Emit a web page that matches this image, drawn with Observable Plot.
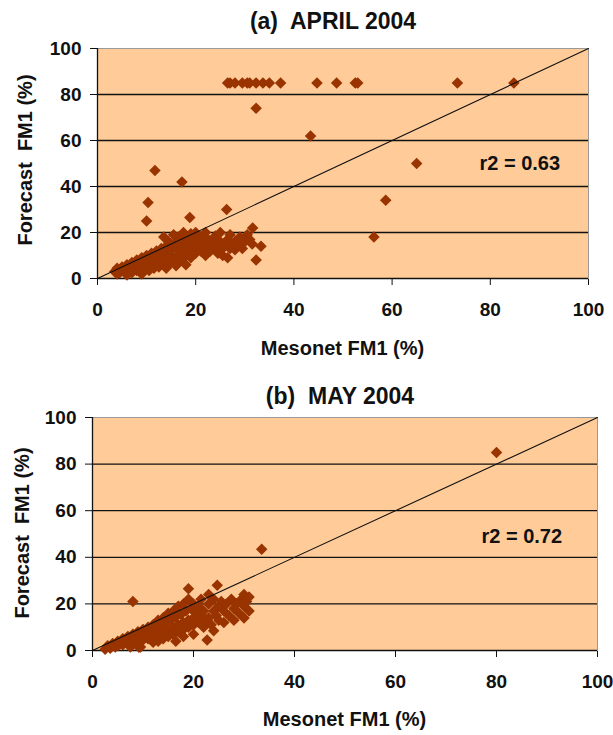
<!DOCTYPE html>
<html>
<head>
<meta charset="utf-8">
<script src="https://cdn.jsdelivr.net/npm/d3@7"></script>
<script src="https://cdn.jsdelivr.net/npm/@observablehq/plot@0.6"></script>
<style>
  html, body { margin: 0; padding: 0; background: #fff; }
  #root { position: relative; width: 613px; height: 735px; overflow: hidden;
    font-family: "Liberation Sans", Arial, sans-serif; font-weight: bold; color: #111; }
  .t { position: absolute; white-space: pre; text-align: center; transform: translate(-50%, -50%); line-height: 1; }
  .yl { position: absolute; white-space: pre; transform: translate(-50%, -50%) rotate(-90deg); line-height: 1; }
  .panel { position: absolute; left: 0; }
</style>
</head>
<body>
<div id="root"></div>
<script>
// ---- data ----
const ticks = [0, 20, 40, 60, 80, 100];
const gridLevels = [20, 40, 60, 80];
const titles = ["(a)  APRIL 2004", "(b)  MAY 2004"];
const xLabel = "Mesonet FM1 (%)";
const yLabel = "Forecast  FM1 (%)";
const r2Labels = ["r2 = 0.63", "r2 = 0.72"];
const oneToOne = [{x: 0, y: 0}, {x: 100, y: 100}];

// April 2004: [Mesonet FM1, Forecast FM1]
const aprilMesonet = [
  26.5,27,28,29.5,30.5,31,32.3,33.7,35,37.3,44.7,48.7,52.5,53,73.3,84.8,
  32.3,43.4,11.7,17.2,10.3,10,18.8,26.3,31.6,33.3,32.3,65,58.7,56.3,
  3.5,4,4.5,5,5,5.5,6,6,6.5,7,7,7.5,8,8,8,8.5,9,9,9,9.5,10,10,10,10.5,11,11,11,11.5,
  12,12,12,12.5,13,13,13,13.5,13.5,14,14,14,14,14.5,15,15,15,15,15.5,16,16,16,16,16.5,
  17,17,17,17,17.5,18,18,18,18,18.5,19,19,19,19,19.5,20,20,20,20.5,21,21,21.5,22,22,22,
  22.5,23,23,24,24,24.5,25,25,25.5,25.5,26,26.5,26.5,27,27,27.5,28,28,28.5,29,29,29.5,
  30,30.5,31,31.5,4,6,7,9
];
const aprilForecast = [
  85,85,85,85,85,85,85,85,85,85,85,85,85,85,85,85,
  74,62,47,42,33,25,26.5,30,22,14,8,50,34,18,
  3,4.5,2.5,5,3.5,4,6,3,5,7,4,5.5,8,3.5,6,5,9,4,7,6,10,5,8,3.5,11,6,8.5,4.5,
  12,7,9.5,5,13,8,10.5,6,18,14,9,11.5,4.5,16,15,7,10,12.5,19,16,5.5,9,13,18,
  17,8,11,14.5,20,18,6,10,13,16,19.5,9,12,15,17,20,11,14,16.5,12,18,15,10,14,20,
  17,12,16,14,18.5,11,16,20,10,13,15,9,17,13,19,15,12.5,16,14,15,18,13,
  16,19,17,15,2,1.5,2.5,2
];

// May 2004
const mayMesonet = [
  80,33.5,8,22.7,30,24.7,19,24,9.2,
  2.5,3,3.5,4,4.5,5,5,5.5,6,6,6.5,7,7,7.5,8,8,8.5,9,9,9.5,9.5,10,10,10.5,11,11,11.5,
  12,12,12,12.5,13,13,13,13.5,14,14,14,14.5,15,15,15,15.5,16,16,16,16.5,16.5,17,17,17,
  17.5,18,18,18,18,18.5,19,19,19,19.5,20,20,20,20,20.5,21,21,21.5,21.5,22,22,22.5,23,23,
  23,23.5,24,24,24.5,25,25,25.5,26,26,26.5,27,27.5,28,28,28.5,29,29.5,30,30,30.5,31,31
];
const mayForecast = [
  85,43.5,21,4.5,14,28,26.5,8.5,1.4,
  0.5,2,1,3,1.5,4,2,3,5,2.5,4,6,3,1.5,7,4,5.5,8,3,1.5,6,9,4.5,7,10,5,8,
  11,6,3.5,9,13,7,4,10.5,14,8,5,12,16,9,6,13,17,10,7,14.5,4,19,11,8,
  15.5,20,12,9,6,17,22,13,10,18,20,14,11,7,16,19,12,22,15,17,10,13,24,20,
  14,11,17,22,15,19,13,21,17,12,20,15,22,18,13,20,16,22,19,24,21,17,23
];

// ---- drawing ----
const fill = "#FFCC99";
const markerColor = "#993300";
const diamond = {
  draw(ctx, size) {
    const h = Math.sqrt(size / 2);
    ctx.moveTo(0, -h); ctx.lineTo(h, 0); ctx.lineTo(0, h); ctx.lineTo(-h, 0); ctx.closePath();
  }
};

const panels = [
  {title: titles[0], xs: aprilMesonet, ys: aprilForecast, r2: r2Labels[0], r2x: 86, r2y: 50,
   top: 30, height: 345, mt: 18, mb: 97, ml: 97, mr: 25, titleY: 21, titleX: 333, xlY: 348, ylX: 25, ylY: 160},
  {title: titles[1], xs: mayMesonet, ys: mayForecast, r2: r2Labels[1], r2x: 85, r2y: 49,
   top: 405, height: 330, mt: 12, mb: 85, ml: 92, mr: 16, titleY: 396, titleX: 340, xlY: 719, ylX: 22, ylY: 533}
];

const root = document.getElementById("root");
for (const p of panels) {
  const pts = p.xs.map((x, i) => ({x, y: p.ys[i]}));
  const chart = Plot.plot({
    width: 613,
    height: p.height,
    marginTop: p.mt, marginBottom: p.mb, marginLeft: p.ml, marginRight: p.mr,
    style: {fontFamily: '"Liberation Sans", Arial, sans-serif',
            fontSize: "19px", fontWeight: "bold", color: "#111", background: "transparent"},
    x: {domain: [0, 100], ticks: ticks, tickSize: 7, tickPadding: 17, label: null},
    y: {domain: [0, 100], ticks: ticks, tickSize: 7, tickPadding: 9, label: null},
    marks: [
      Plot.frame({fill: fill, stroke: "#9a9a9a", strokeWidth: 1}),
      Plot.ruleY(gridLevels, {stroke: "#111", strokeWidth: 1.3}),
      Plot.ruleX([0], {stroke: "#111", strokeWidth: 1.3}),
      Plot.ruleY([0], {stroke: "#111", strokeWidth: 1.3}),
      Plot.dot(pts, {x: "x", y: "y", symbol: diamond, r: 4.6, fill: markerColor, stroke: "none"}),
      Plot.line(oneToOne, {x: "x", y: "y", stroke: "#111", strokeWidth: 1.1}),
      Plot.text([p.r2], {x: p.r2x, y: p.r2y, text: d => d, fontSize: 20, fontWeight: "bold", fill: "#111"})
    ]
  });
  chart.classList.add("panel");
  chart.style.top = p.top + "px";
  root.appendChild(chart);

  const t = document.createElement("div");
  t.className = "t"; t.textContent = p.title;
  t.style.left = p.titleX + "px"; t.style.top = p.titleY + "px"; t.style.fontSize = "23px";
  root.appendChild(t);

  const xl = document.createElement("div");
  xl.className = "t"; xl.textContent = xLabel;
  xl.style.left = (p.ml + (613 - p.mr - p.ml) / 2) + "px"; xl.style.top = p.xlY + "px"; xl.style.fontSize = "20px";
  root.appendChild(xl);

  const yl = document.createElement("div");
  yl.className = "yl"; yl.textContent = yLabel;
  yl.style.left = p.ylX + "px"; yl.style.top = p.ylY + "px"; yl.style.fontSize = "20px";
  root.appendChild(yl);
}
</script>
</body>
</html>
